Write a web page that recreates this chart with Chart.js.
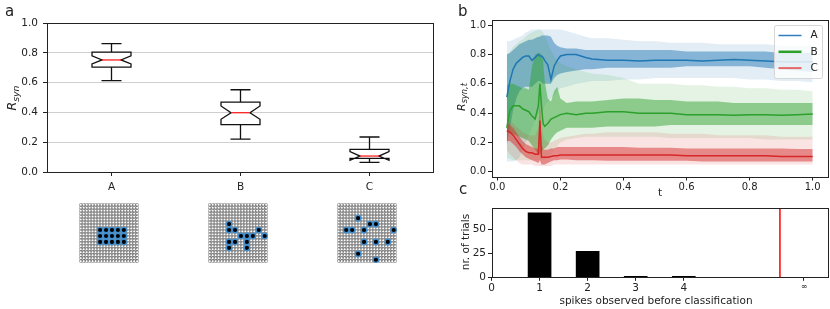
<!DOCTYPE html>
<html>
<head>
<meta charset="utf-8">
<script src="https://cdn.jsdelivr.net/npm/chart.js@4.4.1/dist/chart.umd.min.js"></script>
<style>
  body { margin: 0; background: #fff; width: 830px; height: 309px; position: relative; overflow: hidden;
         font-family: 'DejaVu Sans', sans-serif; color: #222; }
  canvas { position: absolute; }
  .lbl { position: absolute; white-space: nowrap; line-height: 1; font-size: 10.5px; }
  .rot { transform: translate(-50%, -50%) rotate(-90deg); }
  .ctr { transform: translate(-50%, -50%); }
  .panel { font-size: 15px; }
  sub { font-size: 75%; vertical-align: -0.3em; }
</style>
</head>
<body>
<canvas id="boxChart" width="440" height="195" style="left:0;top:0"></canvas>
<canvas id="gridA" width="70" height="70" style="left:74px;top:198px"></canvas>
<canvas id="gridB" width="70" height="70" style="left:203px;top:198px"></canvas>
<canvas id="gridC" width="70" height="70" style="left:332px;top:198px"></canvas>
<canvas id="lineChart" width="410" height="200" style="left:420px;top:0"></canvas>
<canvas id="barChart" width="410" height="114" style="left:420px;top:195px"></canvas>

<div class="lbl panel" style="left:5px;top:4px">a</div>
<div class="lbl panel" style="left:458px;top:4px">b</div>
<div class="lbl panel" style="left:459px;top:182px">c</div>
<div class="lbl rot" style="left:13px;top:98px;font-size:12.5px"><i>R</i><sub><i>syn</i></sub></div>
<div class="lbl rot" style="left:462px;top:97px;font-size:11px"><i>R</i><sub><i>syn,t</i></sub></div>
<div class="lbl ctr" style="left:660px;top:192px">t</div>
<div class="lbl rot" style="left:465px;top:242px">nr. of trials</div>
<div class="lbl ctr" style="left:656px;top:300px">spikes observed before classification</div>

<script>
// ---- panel a: box plots ----
const boxLabels = ['A', 'B', 'C'];
const boxWhiskerLo = [0.613, 0.22, 0.065];
const boxQ1 = [0.704, 0.318, 0.092];
const boxMedian = [0.752, 0.398, 0.107];
const boxQ3 = [0.805, 0.469, 0.152];
const boxWhiskerHi = [0.861, 0.552, 0.235];
const boxNotchLo = [0.725, 0.354, 0.078];
const boxNotchHi = [0.779, 0.443, 0.137];
const boxYTicks = [0, 0.2, 0.4, 0.6, 0.8, 1.0];

// ---- neuron grids under panel a (col, row of active neurons) ----
const gridSize = 10;
const activeA = [[3,4],[4,4],[5,4],[6,4],[7,4],[3,5],[4,5],[5,5],[6,5],[7,5],[3,6],[4,6],[5,6],[6,6],[7,6]];
const activeB = [[3,3],[3,4],[4,4],[8,4],[5,5],[6,5],[7,5],[9,5],[3,6],[4,6],[6,6],[3,7],[6,7]];
const activeC = [[3,2],[5,3],[6,3],[1,4],[2,4],[4,4],[9,4],[4,6],[6,6],[8,6],[3,8],[6,9]];

// ---- panel b: R_syn,t over time ----
const tVals = [0.03,0.04,0.05,0.06,0.07,0.08,0.09,0.10,0.11,0.12,0.13,
               0.135,0.14,0.145,0.15,
               0.16,0.17,0.18,0.19,0.20,
               0.22,0.25,0.28,0.30,
               0.35,0.40,0.45,0.50,0.55,0.60,0.65,0.70,0.75,0.80,0.85,0.90,0.95,1.00];

const aMean  = [0.51,0.62,0.70,0.74,0.76,0.78,0.79,0.79,0.76,0.78,0.80, 0.79,0.79,0.78,0.76, 0.73,0.63,0.72,0.76,0.79, 0.80,0.80,0.78,0.77,
                0.76,0.76,0.755,0.76,0.76,0.76,0.755,0.76,0.765,0.76,0.755,0.75,0.75,0.75];
const aInHi  = [0.80,0.81,0.83,0.85,0.87,0.88,0.89,0.90,0.90,0.91,0.92, 0.92,0.93,0.93,0.93, 0.93,0.92,0.88,0.86,0.85, 0.84,0.84,0.83,0.83,
                0.83,0.83,0.83,0.83,0.83,0.82,0.82,0.82,0.82,0.82,0.82,0.81,0.81,0.81];
const aInLo  = [0.18,0.30,0.42,0.50,0.55,0.57,0.58,0.58,0.58,0.60,0.62, 0.62,0.61,0.60,0.60, 0.60,0.60,0.64,0.66,0.67, 0.68,0.69,0.70,0.70,
                0.71,0.71,0.71,0.71,0.71,0.72,0.72,0.72,0.72,0.72,0.71,0.70,0.69,0.68];
const aOutHi = [0.89,0.89,0.90,0.91,0.92,0.93,0.95,0.96,0.97,0.97,0.97, 0.97,0.97,0.97,0.97, 0.97,0.97,0.97,0.97,0.97, 0.96,0.94,0.92,0.91,
                0.91,0.90,0.89,0.89,0.88,0.88,0.88,0.87,0.87,0.87,0.87,0.86,0.86,0.86];
const aOutLo = [0.07,0.07,0.07,0.08,0.10,0.15,0.20,0.25,0.30,0.35,0.40, 0.40,0.40,0.42,0.45, 0.48,0.50,0.52,0.55,0.57, 0.58,0.60,0.61,0.62,
                0.62,0.63,0.63,0.64,0.64,0.64,0.64,0.64,0.64,0.63,0.63,0.62,0.62,0.61];

const bMean  = [0.30,0.42,0.45,0.45,0.45,0.43,0.42,0.41,0.38,0.36,0.45, 0.60,0.45,0.33,0.31, 0.33,0.36,0.37,0.38,0.39, 0.40,0.39,0.40,0.40,
                0.41,0.41,0.40,0.40,0.40,0.39,0.39,0.39,0.385,0.39,0.39,0.385,0.39,0.395];
const bInHi  = [0.59,0.60,0.60,0.59,0.58,0.57,0.57,0.56,0.72,0.80,0.81, 0.81,0.80,0.76,0.62, 0.50,0.48,0.55,0.58,0.50, 0.47,0.48,0.48,0.48,
                0.49,0.50,0.50,0.49,0.49,0.48,0.48,0.48,0.47,0.47,0.47,0.47,0.47,0.47];
const bInLo  = [0.28,0.27,0.26,0.25,0.24,0.23,0.22,0.21,0.18,0.15,0.12, 0.12,0.14,0.15,0.16, 0.18,0.22,0.25,0.27,0.28, 0.30,0.30,0.30,0.30,
                0.31,0.31,0.31,0.31,0.32,0.32,0.32,0.32,0.32,0.32,0.32,0.32,0.32,0.32];
const bOutHi = [0.80,0.82,0.85,0.87,0.89,0.90,0.92,0.94,0.95,0.96,0.97, 0.97,0.96,0.95,0.93, 0.88,0.83,0.79,0.76,0.74, 0.72,0.70,0.68,0.67,
                0.66,0.64,0.60,0.60,0.60,0.59,0.59,0.58,0.58,0.57,0.57,0.56,0.56,0.55];
const bOutLo = [0.10,0.09,0.08,0.08,0.08,0.08,0.08,0.08,0.08,0.08,0.08, 0.08,0.08,0.08,0.08, 0.10,0.12,0.15,0.18,0.20, 0.22,0.23,0.24,0.24,
                0.24,0.24,0.24,0.24,0.23,0.23,0.23,0.23,0.23,0.23,0.22,0.22,0.22,0.22];

const cMean  = [0.28,0.27,0.25,0.22,0.19,0.16,0.14,0.13,0.13,0.12,0.12, 0.35,0.10,0.10,0.10, 0.10,0.105,0.11,0.11,0.115, 0.115,0.115,0.115,0.115,
                0.115,0.115,0.115,0.115,0.115,0.11,0.11,0.11,0.11,0.11,0.11,0.105,0.105,0.105];
const cInHi  = [0.34,0.32,0.30,0.27,0.24,0.21,0.19,0.18,0.17,0.16,0.16, 0.45,0.20,0.15,0.15, 0.15,0.16,0.16,0.17,0.17, 0.17,0.17,0.17,0.17,
                0.17,0.17,0.165,0.165,0.165,0.16,0.16,0.16,0.16,0.16,0.16,0.16,0.155,0.155];
const cInLo  = [0.21,0.21,0.19,0.17,0.14,0.12,0.10,0.09,0.08,0.07,0.06, 0.08,0.05,0.05,0.05, 0.06,0.07,0.08,0.08,0.085, 0.085,0.08,0.08,0.08,
                0.075,0.075,0.075,0.075,0.075,0.075,0.07,0.07,0.07,0.07,0.07,0.07,0.07,0.07];
const cOutHi = [0.36,0.35,0.33,0.31,0.29,0.27,0.26,0.25,0.25,0.25,0.30, 0.55,0.35,0.25,0.22, 0.20,0.20,0.21,0.22,0.23, 0.24,0.25,0.26,0.26,
                0.27,0.27,0.27,0.27,0.26,0.26,0.26,0.25,0.25,0.25,0.25,0.24,0.24,0.24];
const cOutLo = [0.15,0.12,0.10,0.08,0.06,0.05,0.05,0.05,0.05,0.04,0.04, 0.04,0.04,0.04,0.04, 0.04,0.04,0.05,0.05,0.05, 0.05,0.05,0.05,0.05,
                0.05,0.05,0.05,0.05,0.05,0.05,0.05,0.05,0.05,0.05,0.05,0.05,0.05,0.05];

const seriesNames = ['A', 'B', 'C'];
const lineXTicks = [0, 0.2, 0.4, 0.6, 0.8, 1.0];
const lineYTicks = [0, 0.2, 0.4, 0.6, 0.8, 1.0];

// ---- panel c: histogram of spikes before classification ----
const spikeCounts = [1, 2, 3, 4];
const trialCounts = [67, 27, 1, 1];
const spikeTickValues = [0, 1, 2, 3, 4, 6.5];
const spikeTickLabels = ['0', '1', '2', '3', '4', '∞'];
const trialTicks = [0, 25, 50];
const cutoffX = 6;

Chart.defaults.font.family = "'DejaVu Sans', sans-serif";
Chart.defaults.font.size = 10;
Chart.defaults.color = '#222';

const frame = {
  id: 'frame',
  afterDraw(chart) {
    const { ctx, chartArea: a } = chart;
    ctx.save();
    ctx.strokeStyle = '#222';
    ctx.lineWidth = 1;
    ctx.strokeRect(Math.round(a.left) + 0.5, Math.round(a.top) + 0.5,
                   Math.round(a.right - a.left) - 1, Math.round(a.bottom - a.top));
    ctx.restore();
  }
};

function fixedTicks(values) {
  return s => { s.ticks = values.map(v => ({ value: v })); };
}

// notched boxes drawn through the chart's own scales
const notchedBoxes = {
  id: 'notchedBoxes',
  afterDatasetsDraw(chart) {
    const { ctx, scales: { x, y } } = chart;
    const halfW = 19.5, capW = 10, inset = 10;
    ctx.save();
    ctx.lineWidth = 1.3;
    boxLabels.forEach((lab, i) => {
      const cx = x.getPixelForValue(i);
      const L = cx - halfW, R = cx + halfW;
      const q1 = y.getPixelForValue(boxQ1[i]), q3 = y.getPixelForValue(boxQ3[i]);
      const md = y.getPixelForValue(boxMedian[i]);
      const nl = y.getPixelForValue(boxNotchLo[i]), nh = y.getPixelForValue(boxNotchHi[i]);
      const wl = y.getPixelForValue(boxWhiskerLo[i]), wh = y.getPixelForValue(boxWhiskerHi[i]);
      ctx.strokeStyle = '#111';
      ctx.beginPath();
      ctx.moveTo(cx, q3); ctx.lineTo(cx, wh);
      ctx.moveTo(cx - capW, wh); ctx.lineTo(cx + capW, wh);
      ctx.moveTo(cx, q1); ctx.lineTo(cx, wl);
      ctx.moveTo(cx - capW, wl); ctx.lineTo(cx + capW, wl);
      ctx.stroke();
      ctx.beginPath();
      ctx.moveTo(L, q1); ctx.lineTo(L, nl); ctx.lineTo(L + inset, md); ctx.lineTo(L, nh); ctx.lineTo(L, q3);
      ctx.lineTo(R, q3); ctx.lineTo(R, nh); ctx.lineTo(R - inset, md); ctx.lineTo(R, nl); ctx.lineTo(R, q1);
      ctx.closePath();
      ctx.stroke();
      ctx.strokeStyle = '#ff2020';
      ctx.beginPath();
      ctx.moveTo(L + inset, md); ctx.lineTo(R - inset, md);
      ctx.stroke();
    });
    ctx.restore();
  }
};

new Chart(document.getElementById('boxChart'), {
  type: 'bar',
  data: {
    labels: boxLabels,
    datasets: [{ data: boxQ1.map((q, i) => [q, boxQ3[i]]), backgroundColor: 'transparent', borderWidth: 0 }]
  },
  options: {
    responsive: false, animation: false, devicePixelRatio: 1,
    layout: { padding: { left: 0, right: 6, top: 23, bottom: 0 } },
    plugins: { legend: { display: false }, tooltip: { enabled: false } },
    scales: {
      x: {
        offset: true,
        grid: { offset: false, drawOnChartArea: false, tickLength: 4, tickColor: '#222' },
        border: { display: false },
        ticks: { padding: 5, font: { size: 10.5 } },
        afterFit: s => { s.height = 23; }
      },
      y: {
        min: 0, max: 1,
        grid: { color: '#cfcfcf', tickLength: 4, tickColor: '#222' },
        border: { display: false },
        ticks: { padding: 5, font: { size: 10.5 }, callback: v => v.toFixed(1) },
        afterBuildTicks: fixedTicks(boxYTicks),
        afterFit: s => { s.width = 47; }
      }
    }
  },
  plugins: [notchedBoxes, frame]
});

// neuron grids: a lattice of hollow circles with the active neurons on top
function drawGrid(id, active) {
  const lattice = [];
  for (let i = 0; i < 2 * gridSize; i++) {
    for (let j = 0; j < 2 * gridSize; j++) lattice.push({ x: i + 0.5, y: j + 0.5 });
  }
  new Chart(document.getElementById(id), {
    type: 'scatter',
    data: {
      datasets: [
        { data: active.map(p => ({ x: 2 * p[0] + 1, y: 2 * p[1] + 1 })),
          pointRadius: 2.7, backgroundColor: '#000', borderColor: '#3d8fd1', borderWidth: 1.3 },
        { data: lattice, pointRadius: 1.5, backgroundColor: '#fff', borderColor: '#4a4a4a', borderWidth: 0.65 }
      ]
    },
    options: {
      responsive: false, animation: false, devicePixelRatio: 1,
      layout: { padding: 1 },
      plugins: { legend: { display: false }, tooltip: { enabled: false } },
      scales: {
        x: { type: 'linear', min: 0, max: 2 * gridSize, display: false },
        y: { type: 'linear', min: 0, max: 2 * gridSize, reverse: true, display: false }
      }
    }
  });
}
drawGrid('gridA', activeA);
drawGrid('gridB', activeB);
drawGrid('gridC', activeC);

// panel b
const colors = ['31,119,180', '44,160,44', '214,39,40'];
const bands = [
  [aMean, aInLo, aInHi, aOutLo, aOutHi],
  [bMean, bInLo, bInHi, bOutLo, bOutHi],
  [cMean, cInLo, cInHi, cOutLo, cOutHi]
];
const pts = arr => arr.map((v, i) => ({ x: tVals[i], y: v }));
const lineSets = [];
bands.forEach((s, k) => {
  const c = colors[k];
  const base = lineSets.length;
  lineSets.push({ data: pts(s[3]), borderWidth: 0, pointRadius: 0, fill: false, order: 20 });
  lineSets.push({ data: pts(s[4]), borderWidth: 0, pointRadius: 0, fill: base,
                  backgroundColor: `rgba(${c},0.13)`, order: 9 - 2 * k });
  lineSets.push({ data: pts(s[1]), borderWidth: 0, pointRadius: 0, fill: false, order: 20 });
  lineSets.push({ data: pts(s[2]), borderWidth: 0, pointRadius: 0, fill: base + 2,
                  backgroundColor: `rgba(${c},0.48)`, order: 8 - 2 * k });
});
bands.forEach((s, k) => {
  lineSets.push({ label: seriesNames[k], data: pts(s[0]), borderColor: `rgb(${colors[k]})`,
                  borderWidth: 1.5, pointRadius: 0, fill: false, order: 3 - k });
});

const lineLegend = {
  id: 'lineLegend',
  afterDraw(chart) {
    const { ctx, chartArea: a } = chart;
    const w = 48, h = 53, x0 = a.right - 5.5 - w, y0 = a.top + 5.5;
    const legendColors = ['#2f7fc0', '#2ca02c', '#e46a6a'];
    const legendWidths = [1.5, 2.5, 2];
    ctx.save();
    ctx.fillStyle = 'rgba(255,255,255,0.8)';
    ctx.strokeStyle = '#d6d6d6';
    ctx.lineWidth = 1;
    ctx.beginPath();
    ctx.roundRect(x0, y0, w, h, 2);
    ctx.fill(); ctx.stroke();
    ctx.font = "10.5px 'DejaVu Sans'";
    ctx.textBaseline = 'middle';
    seriesNames.forEach((n, i) => {
      const yy = y0 + 10 + i * 16.3;
      ctx.strokeStyle = legendColors[i];
      ctx.lineWidth = legendWidths[i];
      ctx.beginPath(); ctx.moveTo(x0 + 4, yy); ctx.lineTo(x0 + 27, yy); ctx.stroke();
      ctx.fillStyle = '#222';
      ctx.fillText(n, x0 + 36, yy);
    });
    ctx.restore();
  }
};

new Chart(document.getElementById('lineChart'), {
  type: 'line',
  data: { datasets: lineSets },
  options: {
    responsive: false, animation: false, devicePixelRatio: 1,
    layout: { padding: { left: 0, right: 2, top: 20, bottom: 0 } },
    plugins: { legend: { display: false }, tooltip: { enabled: false }, filler: { propagate: false } },
    elements: { line: { tension: 0 } },
    scales: {
      x: {
        type: 'linear', min: -0.0185, max: 1.0485,
        grid: { drawOnChartArea: false, tickLength: 3.5, tickColor: '#222' },
        border: { display: false },
        ticks: { padding: 1, callback: v => v.toFixed(1) },
        afterBuildTicks: fixedTicks(lineXTicks),
        afterFit: s => { s.height = 23; }
      },
      y: {
        type: 'linear', min: -0.035, max: 1.035,
        grid: { drawOnChartArea: false, tickLength: 3.5, tickColor: '#222' },
        border: { display: false },
        ticks: { padding: 2, callback: v => v.toFixed(1) },
        afterBuildTicks: fixedTicks(lineYTicks),
        afterFit: s => { s.width = 71.5; }
      }
    }
  },
  plugins: [frame, lineLegend]
});

// panel c
new Chart(document.getElementById('barChart'), {
  type: 'bar',
  data: {
    datasets: [
      { type: 'line', data: [{ x: cutoffX, y: 0 }, { x: cutoffX, y: 72 }], borderColor: '#ff0000',
        borderWidth: 1.5, pointRadius: 0, fill: false },
      { data: spikeCounts.map((s, i) => ({ x: s, y: trialCounts[i] })), backgroundColor: '#000',
        barThickness: 23 }
    ]
  },
  options: {
    responsive: false, animation: false, devicePixelRatio: 1,
    layout: { padding: { left: 0, right: 2, top: 13, bottom: 0 } },
    plugins: { legend: { display: false }, tooltip: { enabled: false } },
    scales: {
      x: {
        type: 'linear', min: 0, max: 7, offset: false,
        grid: { drawOnChartArea: false, tickLength: 3.5, tickColor: '#222', offset: false },
        border: { display: false },
        ticks: {
          padding: 1,
          callback: (v) => spikeTickLabels[spikeTickValues.indexOf(v)],
          font: ctx => (ctx.tick && ctx.tick.value === 6.5) ? { size: 8 } : { size: 10.5 }
        },
        afterBuildTicks: fixedTicks(spikeTickValues),
        afterFit: s => { s.height = 31.7; }
      },
      y: {
        type: 'linear', min: 0, max: 72,
        grid: { drawOnChartArea: false, tickLength: 3.5, tickColor: '#222' },
        border: { display: false },
        ticks: { padding: 2, font: { size: 10.5 } },
        afterBuildTicks: fixedTicks(trialTicks),
        afterFit: s => { s.width = 71.5; }
      }
    }
  },
  plugins: [frame]
});
</script>
</body>
</html>
